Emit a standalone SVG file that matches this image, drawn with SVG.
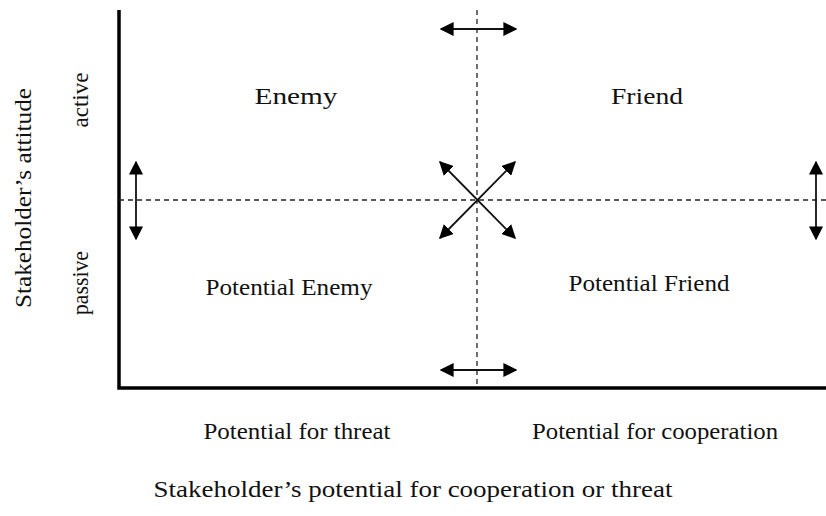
<svg xmlns="http://www.w3.org/2000/svg" width="826" height="516" viewBox="0 0 826 516" font-family="'Liberation Serif', 'Times New Roman', serif">
<style>
text{font-family:"Liberation Serif","Times New Roman",serif;font-size:23.5px;fill:#111;text-anchor:middle}
.axis{stroke:#000;stroke-width:3.5;fill:none}
.dash{stroke:#222;stroke-width:1.3;stroke-dasharray:5,4;fill:none}
.arr{stroke:#111;stroke-width:1.8;fill:none;marker-start:url(#ah);marker-end:url(#ah)}
</style>
<defs>
<marker id="ah" viewBox="0 0 10 10" refX="9" refY="5" markerWidth="14" markerHeight="14" markerUnits="userSpaceOnUse" orient="auto-start-reverse">
<path d="M0,0 L10,5 L0,10 z" fill="#000"/>
</marker>
</defs>
<g id="axes">
<path class="axis" d="M119,10 V388 H826"/>
</g>
<g id="connectors">
<line class="dash" x1="477" y1="10" x2="477" y2="388"/>
<line class="dash" x1="119" y1="200" x2="826" y2="200"/>
<line class="arr" x1="441" y1="29" x2="516" y2="29"/>
<line class="arr" x1="441" y1="370" x2="516" y2="370"/>
<line class="arr" x1="136" y1="162" x2="136" y2="239"/>
<line class="arr" x1="816" y1="162" x2="816" y2="239"/>
<line class="arr" x1="440" y1="162" x2="515" y2="238"/>
<line class="arr" x1="515" y1="162" x2="440" y2="238"/>
</g>
<g id="enemy"><text x="296" y="104" textLength="83" lengthAdjust="spacingAndGlyphs">Enemy</text></g>
<g id="friend"><text x="647" y="104" textLength="72" lengthAdjust="spacingAndGlyphs">Friend</text></g>
<g id="potential-enemy"><text x="289" y="295" textLength="167" lengthAdjust="spacingAndGlyphs">Potential Enemy</text></g>
<g id="potential-friend"><text x="649" y="291" textLength="161" lengthAdjust="spacingAndGlyphs">Potential Friend</text></g>
<g id="label-threat"><text x="297" y="439" textLength="187" lengthAdjust="spacingAndGlyphs">Potential for threat</text></g>
<g id="label-cooperation"><text x="655" y="439" textLength="246" lengthAdjust="spacingAndGlyphs">Potential for cooperation</text></g>
<g id="label-x"><text x="413" y="497" textLength="519" lengthAdjust="spacingAndGlyphs">Stakeholder’s potential for cooperation or threat</text></g>
<g id="label-y"><text transform="translate(31,198) rotate(-90)" textLength="220" lengthAdjust="spacingAndGlyphs">Stakeholder’s attitude</text></g>
<g id="label-active"><text transform="translate(88,100) rotate(-90)" textLength="55" lengthAdjust="spacingAndGlyphs">active</text></g>
<g id="label-passive"><text transform="translate(88,283) rotate(-90)" textLength="64" lengthAdjust="spacingAndGlyphs">passive</text></g>
</svg>
